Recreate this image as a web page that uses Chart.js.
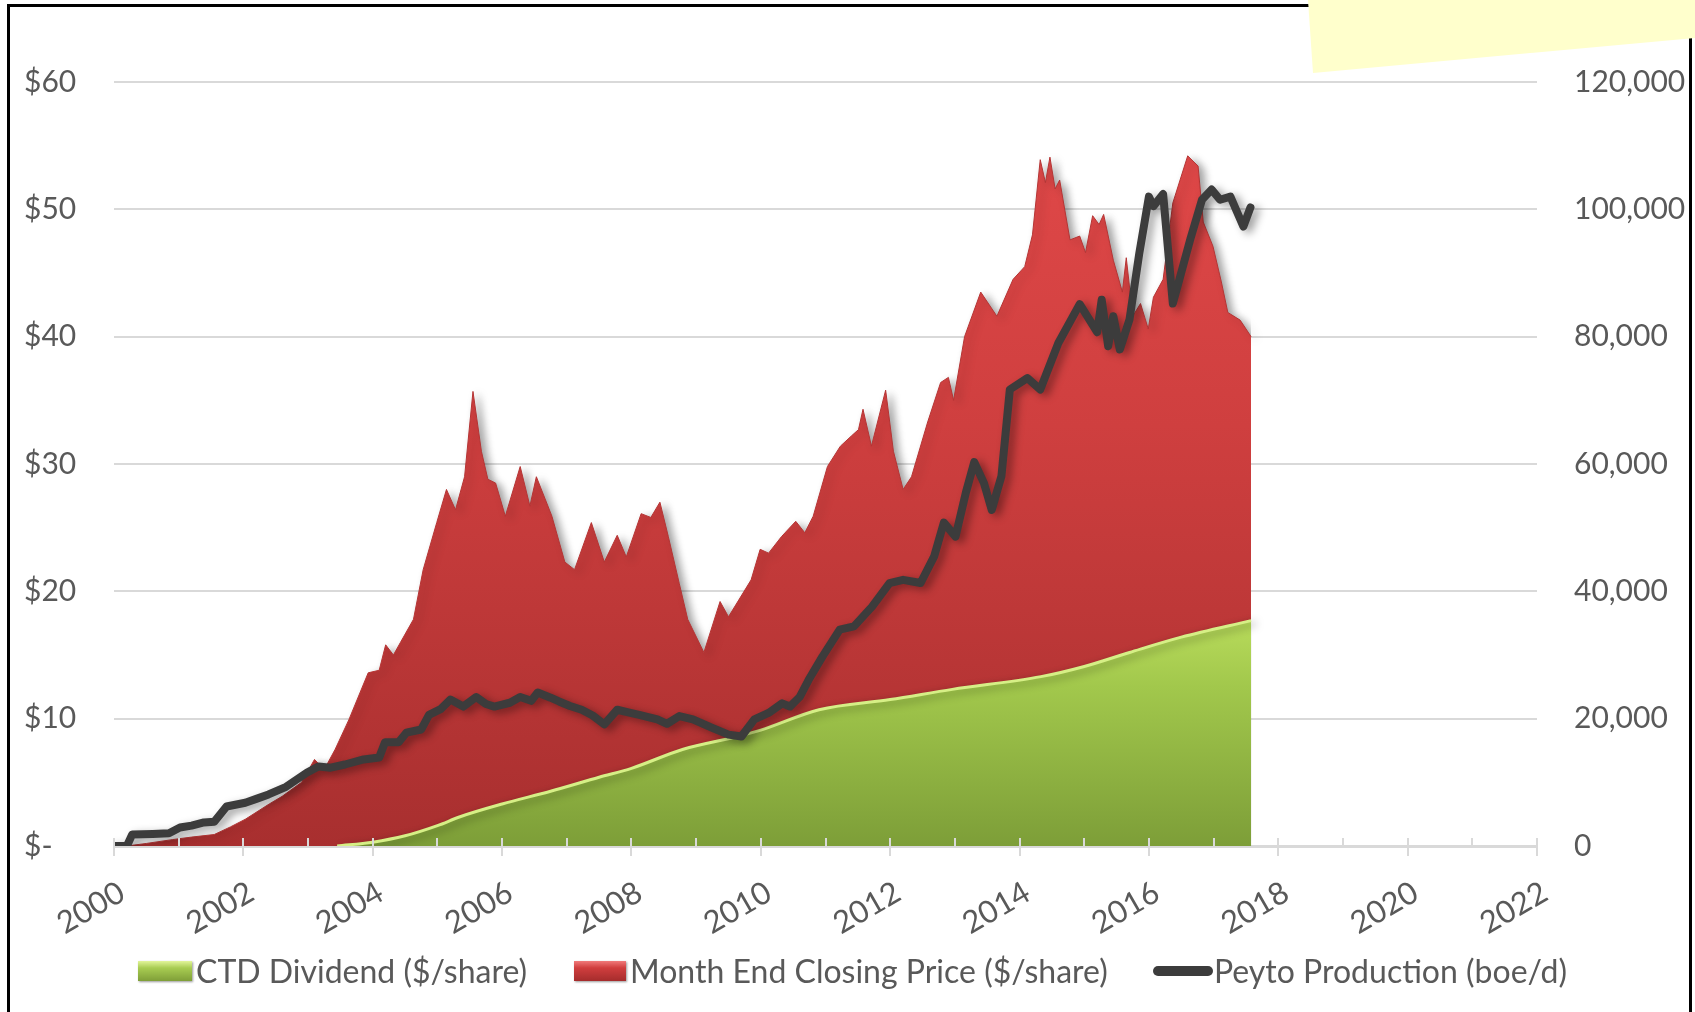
<!DOCTYPE html>
<html><head><meta charset="utf-8">
<script src="https://cdn.jsdelivr.net/npm/chart.js@4.4.1/dist/chart.umd.min.js"></script>
<style>
html,body{margin:0;padding:0;background:#fff;width:1695px;height:1012px;overflow:hidden;}
#wrap{position:relative;width:1695px;height:1012px;}
#c{position:absolute;left:0;top:0;}
#frame{position:absolute;left:7px;top:4px;width:1679px;height:1060px;border:3px solid #000;pointer-events:none;}
#note{position:absolute;left:0;top:0;width:1695px;height:80px;background:#ffffcc;clip-path:polygon(1308px 0,1695px 0,1695px 38px,1313px 73px);}
.sw{position:absolute;}
.lt{position:absolute;top:952px;font-family:Lato,"Open Sans",sans-serif;font-size:32px;line-height:38px;color:#595959;white-space:nowrap;}
</style></head>
<body><div id="wrap">
<canvas id="c" width="1695" height="1012"></canvas>
<div id="frame"></div>
<div id="note"></div>
<div class="sw" style="left:138px;top:961px;width:54px;height:20px;background:linear-gradient(#e2f59a,#a8cc52 35%,#7f9f38);box-shadow:1px 1px 2px rgba(0,0,0,0.4)"></div>
<div class="lt" id="l1" style="left:196px">CTD Dividend ($/share)</div>
<div class="sw" style="left:574px;top:961px;width:52px;height:20px;background:linear-gradient(#f07a7a,#d03e3e 35%,#a52c2c);box-shadow:1px 1px 2px rgba(0,0,0,0.4)"></div>
<div class="lt" id="l2" style="left:630px">Month End Closing Price ($/share)</div>
<div class="sw" style="left:1153px;top:966px;width:60px;height:10px;border-radius:5px;background:#3c3c3c"></div>
<div class="lt" id="l3" style="left:1214px">Peyto Production (boe/d)</div>
</div>
<script>
// ---- data (decimal years) ----
const dividendYears = [2003.45, 2004.0, 2004.5, 2005.0, 2005.35, 2006.0, 2006.75, 2007.5, 2008.0, 2008.8, 2009.64, 2010.0, 2010.9, 2012.0, 2012.96, 2014.33, 2015.0, 2015.7, 2016.5, 2017.58];
const dividendValues = [0, 0.3, 0.8, 1.6, 2.3, 3.3, 4.3, 5.4, 6.1, 7.6, 8.6, 9.1, 10.7, 11.5, 12.3, 13.3, 14.1, 15.2, 16.4, 17.7];

const priceYears = [2000.2, 2000.5, 2000.9, 2001.2, 2001.55, 2001.8, 2002.03, 2002.4, 2002.6, 2002.9,
  2003.1, 2003.25, 2003.42, 2003.63, 2003.93, 2004.1, 2004.2, 2004.32, 2004.43, 2004.63,
  2004.78, 2004.99, 2005.14, 2005.28, 2005.42, 2005.55, 2005.68, 2005.78, 2005.9, 2006.05,
  2006.28, 2006.43, 2006.53, 2006.77, 2006.97, 2007.12, 2007.38, 2007.58, 2007.78, 2007.92,
  2008.15, 2008.3, 2008.44, 2008.57, 2008.74, 2008.87, 2009.12, 2009.37, 2009.5, 2009.85,
  2009.99, 2010.12, 2010.32, 2010.54, 2010.68, 2010.81, 2011.03, 2011.23, 2011.4, 2011.51,
  2011.58, 2011.71, 2011.93, 2012.05, 2012.2, 2012.33, 2012.58, 2012.78, 2012.9, 2012.98,
  2013.15, 2013.4, 2013.65, 2013.9, 2014.08, 2014.2, 2014.32, 2014.4, 2014.47, 2014.55,
  2014.62, 2014.78, 2014.93, 2015.02, 2015.13, 2015.23, 2015.3, 2015.45, 2015.59, 2015.65,
  2015.75, 2015.87, 2015.99, 2016.07, 2016.22, 2016.37, 2016.6, 2016.76, 2016.84, 2016.99,
  2017.12, 2017.22, 2017.41, 2017.58];
const priceValues = [0, 0.2, 0.5, 0.7, 0.9, 1.5, 2.1, 3.3, 3.9, 5.0,
  6.8, 6.0, 7.6, 9.9, 13.6, 13.8, 15.8, 15.0, 16.0, 17.8,
  21.7, 25.4, 28.0, 26.4, 29.0, 35.7, 31.0, 28.8, 28.5, 25.9,
  29.8, 26.7, 29.0, 25.9, 22.3, 21.7, 25.4, 22.3, 24.4, 22.7,
  26.1, 25.8, 27.0, 24.3, 20.6, 17.8, 15.2, 19.2, 18.0, 20.9,
  23.3, 23.0, 24.3, 25.5, 24.6, 25.9, 29.8, 31.4, 32.2, 32.7,
  34.3, 31.4, 35.8, 31.0, 28.0, 29.0, 33.3, 36.4, 36.8, 35.0,
  40.0, 43.5, 41.6, 44.5, 45.5, 48.0, 53.9, 52.1, 54.1, 51.6,
  52.3, 47.6, 47.9, 46.6, 49.5, 48.8, 49.6, 46.0, 43.5, 46.2,
  41.6, 42.6, 40.6, 43.1, 44.5, 50.5, 54.2, 53.4, 49.0, 47.1,
  44.3, 41.9, 41.3, 40.0];

const prodYears = [2000.0, 2000.2, 2000.28, 2000.6, 2000.85, 2001.02, 2001.2, 2001.39, 2001.55, 2001.74,
  2002.03, 2002.2, 2002.39, 2002.66, 2002.98, 2003.16, 2003.35, 2003.57, 2003.86, 2004.1,
  2004.19, 2004.4, 2004.52, 2004.75, 2004.87, 2005.05, 2005.2, 2005.4, 2005.6, 2005.75,
  2005.88, 2006.12, 2006.28, 2006.45, 2006.55, 2006.75, 2006.88, 2007.05, 2007.23, 2007.4,
  2007.58, 2007.78, 2007.95, 2008.12, 2008.4, 2008.55, 2008.74, 2008.95, 2009.24, 2009.5,
  2009.7, 2009.9, 2010.12, 2010.33, 2010.45, 2010.6, 2010.74, 2010.95, 2011.22, 2011.44,
  2011.72, 2011.99, 2012.2, 2012.47, 2012.68, 2012.83, 2013.01, 2013.17, 2013.3, 2013.45,
  2013.57, 2013.72, 2013.85, 2014.12, 2014.32, 2014.6, 2014.93, 2015.2, 2015.27, 2015.37,
  2015.45, 2015.55, 2015.7, 2015.85, 2016.0, 2016.07, 2016.22, 2016.37, 2016.64, 2016.82,
  2016.97, 2017.1, 2017.26, 2017.46, 2017.57];
const prodValues = [0, 0, 1800, 1900, 2000, 2900, 3200, 3700, 3800, 6200,
  6800, 7400, 8100, 9300, 11500, 12500, 12300, 12800, 13600, 13900,
  16300, 16300, 17800, 18300, 20600, 21500, 23000, 21900, 23400, 22300,
  21900, 22500, 23400, 22800, 24100, 23300, 22700, 22000, 21400, 20500,
  19100, 21400, 21000, 20600, 19900, 19200, 20400, 19900, 18600, 17500,
  17200, 19900, 20900, 22400, 21900, 23400, 26100, 29700, 34000, 34500,
  37600, 41300, 41800, 41300, 45500, 50800, 48600, 55500, 60300, 57000,
  52800, 58100, 71700, 73500, 71700, 79000, 85100, 80700, 85800, 78500,
  83200, 78000, 82700, 93000, 102000, 100500, 102400, 85200, 95300, 101500,
  103100, 101500, 102000, 97300, 100300];

const seriesNames = ['CTD Dividend ($/share)', 'Month End Closing Price ($/share)', 'Peyto Production (boe/d)'];

function pts(xs, ys) { return xs.map((x, i) => ({ x: x, y: ys[i] })); }

function redFill(ctx) {
  const chart = ctx.chart, ca = chart.chartArea;
  if (!ca) return '#c83a3a';
  const g = chart.ctx.createLinearGradient(0, ca.top, 0, ca.bottom);
  g.addColorStop(0, '#e34a4a');
  g.addColorStop(0.45, '#cf3f3f');
  g.addColorStop(1, '#a82f2f');
  return g;
}
function greenFill(ctx) {
  const chart = ctx.chart, ca = chart.chartArea;
  if (!ca || !chart.scales.y) return '#9cc24a';
  const top = chart.scales.y.getPixelForValue(18);
  const g = chart.ctx.createLinearGradient(0, top, 0, ca.bottom);
  g.addColorStop(0, '#b9dc5c');
  g.addColorStop(0.3, '#a2c84c');
  g.addColorStop(1, '#7d9e38');
  return g;
}

const fx = {
  id: 'fx',
  beforeDatasetsDraw(chart) {
    const c = chart.ctx; c.save();
    c.shadowColor = 'rgba(0,0,0,0.38)'; c.shadowBlur = 9; c.shadowOffsetX = 5; c.shadowOffsetY = 3;
  },
  afterDatasetsDraw(chart) { chart.ctx.restore(); },
  afterDraw(chart) {
    const c = chart.ctx, xs = chart.scales.x, b = chart.chartArea.bottom;
    c.save(); c.strokeStyle = '#d9d9d9'; c.lineWidth = 2;
    for (let v = xs.min; v <= xs.max; v++) {
      const px = Math.round(xs.getPixelForValue(v));
      c.beginPath(); c.moveTo(px, b); c.lineTo(px, b - 8); c.stroke();
    }
    c.restore();
  }
};

const yFont = { family: 'Lato, "Open Sans", sans-serif', size: 30 };
const xFont = { family: 'Lato, "Open Sans", sans-serif', size: 31 };

new Chart(document.getElementById('c'), {
  type: 'line',
  data: {
    datasets: [
      { label: seriesNames[2], data: pts(prodYears, prodValues), yAxisID: 'y2', order: 0,
        borderColor: '#3c3c3c', borderWidth: 8, borderJoinStyle: 'round', borderCapStyle: 'round',
        pointRadius: 0, fill: false, tension: 0 },
      { label: seriesNames[0], data: pts(dividendYears, dividendValues), yAxisID: 'y', order: 1,
        backgroundColor: greenFill, borderColor: '#d6ef86', borderWidth: 3, pointRadius: 0,
        fill: 'origin', cubicInterpolationMode: 'monotone' },
      { label: seriesNames[1], data: pts(priceYears, priceValues), yAxisID: 'y', order: 2,
        backgroundColor: redFill, borderColor: '#b53434', borderWidth: 1, pointRadius: 0,
        fill: 'origin', tension: 0 }
    ]
  },
  options: {
    animation: false, responsive: false, maintainAspectRatio: false,
    layout: { padding: { top: 82, left: 24, right: 0, bottom: 0 } },
    plugins: { legend: { display: false }, tooltip: { enabled: false } },
    scales: {
      x: {
        type: 'linear', min: 2000, max: 2022, z: 1,
        afterFit(s) { s.height = 166; },
        ticks: { stepSize: 1, autoSkip: false, minRotation: 30, maxRotation: 30, color: '#595959', font: xFont,
          padding: 18, labelOffset: 8,
          callback: v => (v % 2 === 0 ? String(v) : '') },
        grid: { drawOnChartArea: false, drawTicks: true, tickLength: 10, lineWidth: 2,
          color: c => (c.tick && c.tick.value % 2 === 0 ? '#d9d9d9' : 'rgba(0,0,0,0)') },
        border: { display: true, color: '#d9d9d9', width: 3 }
      },
      y: {
        position: 'left', min: 0, max: 60,
        afterFit(s) { s.width = 90; },
        ticks: { stepSize: 10, color: '#595959', font: yFont, crossAlign: 'far', padding: 20,
          callback: v => (v === 0 ? '$-' : '$' + v) },
        grid: { color: '#d9d9d9', lineWidth: 2, drawTicks: false },
        border: { display: false }
      },
      y2: {
        position: 'right', min: 0, max: 120000,
        afterFit(s) { s.width = 158; },
        ticks: { stepSize: 20000, color: '#595959', font: yFont, padding: 37,
          callback: v => v.toLocaleString('en-US') },
        grid: { display: false, drawTicks: false },
        border: { display: false }
      }
    }
  },
  plugins: [fx]
});
</script>
</body></html>
